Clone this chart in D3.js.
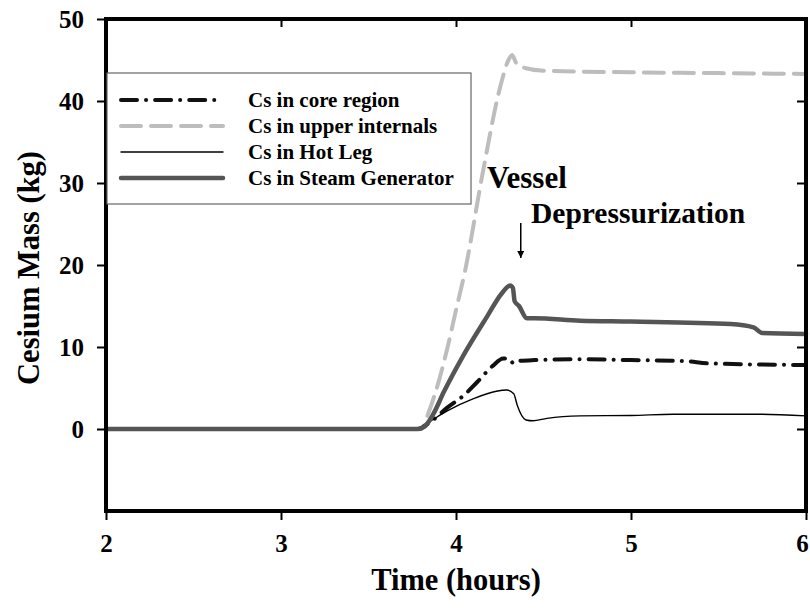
<!DOCTYPE html>
<html><head><meta charset="utf-8">
<script src="https://cdn.jsdelivr.net/npm/d3@7"></script>
<style>body{margin:0;background:#fff}svg{display:block}text{font-family:"Liberation Serif","Times New Roman",serif;font-weight:bold}</style>
</head><body>
<script>
const xTicks = [2, 3, 4, 5, 6];
const yTicks = [0, 10, 20, 30, 40, 50];
const seriesNames = ["Cs in core region", "Cs in upper internals", "Cs in Hot Leg", "Cs in Steam Generator"];
const coreData = [[2,0],[3.78,0],[3.85,0.8],[3.95,2.6],[4.05,4.2],[4.12,5.7],[4.21,7.7],[4.27,8.6],[4.30,8.6],[4.33,8.0],[4.36,8.3],[4.45,8.4],[4.71,8.5],[5.0,8.4],[5.3,8.3],[5.45,8.0],[6,7.8]];
const upperData = [[2,0],[3.8,0],[3.85,2.4],[3.95,9.8],[4.0,14.5],[4.05,19.1],[4.155,31.5],[4.25,41.5],[4.30,45.0],[4.32,45.6],[4.345,44.6],[4.4,44.0],[4.5,43.7],[5,43.5],[5.5,43.4],[6,43.3]];
const hotLegData = [[2,0],[3.78,0],[3.85,0.9],[3.95,2.2],[4.1,3.7],[4.23,4.6],[4.29,4.75],[4.33,4.3],[4.35,2.9],[4.40,1.1],[4.44,1.0],[4.52,1.3],[4.71,1.6],[5.0,1.65],[5.24,1.8],[5.74,1.8],[6,1.6]];
const sgData = [[2,0],[3.78,0],[3.82,0.3],[3.87,1.8],[3.93,4.5],[4.04,8.9],[4.18,13.8],[4.26,16.5],[4.31,17.5],[4.325,17.2],[4.335,15.6],[4.36,15.0],[4.405,13.5],[4.45,13.5],[4.71,13.2],[5.0,13.1],[5.57,12.8],[5.70,12.4],[5.75,11.7],[6,11.6]];

const W = 810, H = 610;
const L = 106, R = 806, T = 19, B = 511;
const svg = d3.select("body").append("svg").attr("width", W).attr("height", H);
const x = d3.scaleLinear().domain([2, 6]).range([L, R]);
const y = d3.scaleLinear().domain([-10, 50]).range([B, T]);

const styles = [
  {data: coreData, color: "#111", width: 4, dash: "16,9,0.1,9"},
  {data: upperData, color: "#bdbdbd", width: 4, dash: "20,10"},
  {data: hotLegData, color: "#000", width: 1.4, dash: null},
  {data: sgData, color: "#555", width: 4.5, dash: null}
];

const line = d3.line().x(d => x(d[0])).y(d => y(d[1])).curve(d3.curveMonotoneX);
[1, 0, 2, 3].forEach(i => {
  const s = styles[i];
  svg.append("path").datum(s.data).attr("d", line)
    .attr("fill", "none").attr("stroke", s.color).attr("stroke-width", s.width)
    .attr("stroke-linecap", "round").attr("stroke-linejoin", "round")
    .attr("stroke-dasharray", s.dash);
});

const fmt = d3.format("d");
svg.append("g").attr("transform", `translate(${L},0)`)
  .call(d3.axisLeft(y).tickValues(yTicks).tickFormat(fmt).tickSize(9).tickPadding(13))
  .call(g => g.select(".domain").remove())
  .call(g => g.selectAll("line").attr("stroke-width", 2))
  .call(g => g.selectAll("text").attr("font-size", 25).attr("font-family", "Liberation Serif").attr("font-weight", "bold").attr("fill", "#000"));
svg.append("g").attr("transform", `translate(0,${B})`)
  .call(d3.axisBottom(x).tickValues(xTicks).tickFormat(fmt).tickSize(9).tickPadding(14))
  .call(g => g.select(".domain").remove())
  .call(g => g.selectAll("line").attr("stroke-width", 2))
  .call(g => g.selectAll("text").attr("font-size", 25).attr("font-family", "Liberation Serif").attr("font-weight", "bold").attr("fill", "#000")
    .attr("dx", d => d === 6 ? -4 : 0));
svg.append("g").attr("transform", `translate(${R},0)`)
  .call(d3.axisLeft(y).tickValues(yTicks).tickFormat("").tickSize(9))
  .call(g => g.select(".domain").remove())
  .call(g => g.selectAll("line").attr("stroke-width", 2));
svg.append("g").attr("transform", `translate(0,${T})`)
  .call(d3.axisBottom(x).tickValues(xTicks).tickFormat("").tickSize(8))
  .call(g => g.select(".domain").remove())
  .call(g => g.selectAll("line").attr("stroke-width", 2));

svg.append("rect").attr("x", L).attr("y", T).attr("width", R - L).attr("height", B - T)
  .attr("fill", "none").attr("stroke", "#000").attr("stroke-width", 4);

const lg = svg.append("g");
lg.append("rect").attr("x", 107).attr("y", 73).attr("width", 364).attr("height", 131)
  .attr("fill", "#fff").attr("stroke", "#666").attr("stroke-width", 1.2);
const rowY = [100, 126, 152, 178];
styles.forEach((s, i) => {
  lg.append("line").attr("x1", 121).attr("x2", 223).attr("y1", rowY[i]).attr("y2", rowY[i])
    .attr("stroke", s.color).attr("stroke-width", s.width).attr("stroke-linecap", "round")
    .attr("stroke-dasharray", s.dash);
  lg.append("text").attr("x", 248).attr("y", rowY[i]).attr("dy", "0.35em")
    .attr("font-size", 21).text(seriesNames[i]);
});

svg.append("text").attr("x", (L + R) / 2).attr("y", 590).attr("text-anchor", "middle")
  .attr("font-size", 30.5).text("Time (hours)");
svg.append("text").attr("transform", `translate(39,${(T + B) / 2 + 3}) rotate(-90)`)
  .attr("text-anchor", "middle").attr("font-size", 30.5).text("Cesium Mass (kg)");

svg.append("text").attr("x", 487).attr("y", 188).attr("font-size", 31).text("Vessel");
svg.append("text").attr("x", 531).attr("y", 223).attr("font-size", 29.5).text("Depressurization");
svg.append("defs").append("marker").attr("id", "ah").attr("viewBox", "0 0 10 10")
  .attr("refX", 10).attr("refY", 5).attr("markerWidth", 7).attr("markerHeight", 7)
  .attr("markerUnits", "userSpaceOnUse").attr("orient", "auto")
  .append("path").attr("d", "M0,0 L10,5 L0,10 z").attr("fill", "#000");
svg.append("line").attr("x1", x(4.37)).attr("x2", x(4.37)).attr("y1", 223).attr("y2", 258)
  .attr("stroke", "#000").attr("stroke-width", 1.5).attr("marker-end", "url(#ah)");
</script>
</body></html>
